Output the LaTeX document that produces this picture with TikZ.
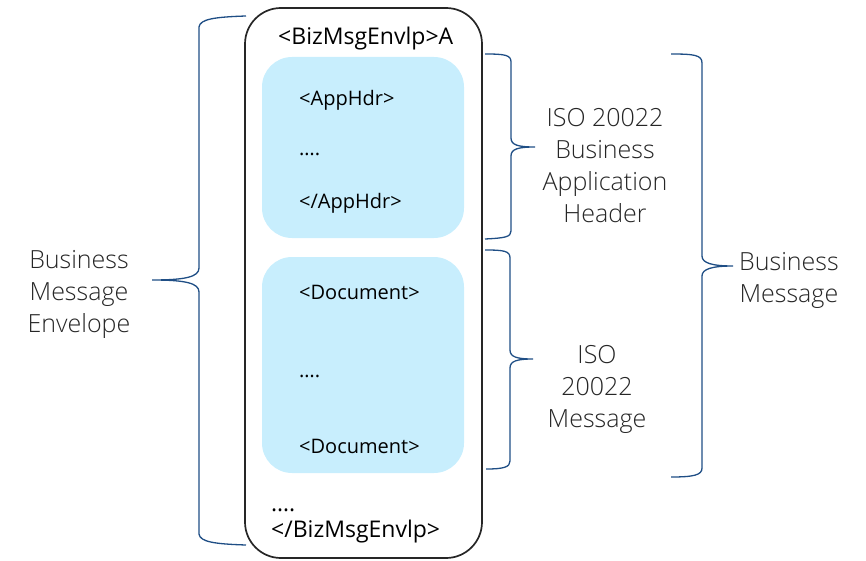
\documentclass[tikz,border=0pt]{standalone}
\usepackage{fontspec}
\setmainfont{Open Sans}
\newfontfamily\thinfont{Open Sans}[UprightFont={* Light}]
\definecolor{hdrblue}{HTML}{C8EEFD}
\definecolor{bracecol}{HTML}{1F4E85}
\definecolor{labelgray}{HTML}{262626}
\begin{document}
\begin{tikzpicture}[
                        x=1pt, y=-1pt,
                        tag/.style={anchor=base west, inner sep=0pt, font=\fontsize{20}{23}\selectfont},
                        lbl/.style={align=center, inner sep=0pt, text=labelgray, font=\thinfont\fontsize{25}{32}\selectfont},
                        brace/.style={draw=bracecol, line width=1.3pt}
                    ]
                    \useasboundingbox (0,0) rectangle (866,561);
                    % Blocks
                    \node [rectangle, draw=black!85, line width=1.7pt, rounded corners=36pt, minimum width=237, minimum height=550] (env) at (363.5,283) {};
                    \node [rectangle, fill=hdrblue, rounded corners=30pt, minimum width=202, minimum height=181] (hdr) at (363,147.5) {};
                    \node [rectangle, fill=hdrblue, rounded corners=30pt, minimum width=202, minimum height=216] (doc) at (363,365) {};

                    % Tags
                    \node [tag, font=\fontsize{23}{26}\selectfont] (envopen) at (278,45) {<BizMsgEnvlp>A};
                    \node [tag] (hdropen) at (299,106) {<AppHdr>};
                    \node [tag] (hdrdots) at (299,156) {….};
                    \node [tag] (hdrclose) at (299,208) {</AppHdr>};
                    \node [tag] (docopen) at (299,299) {<Document>};
                    \node [tag] (docdots) at (299,377) {….};
                    \node [tag] (docclose) at (299,453) {<Document>};
                    \node [tag, font=\fontsize{23}{26}\selectfont] (envdots) at (271,511) {….};
                    \node [tag, font=\fontsize{23}{26}\selectfont] (envclose) at (271,537) {</BizMsgEnvlp>};

                    % Braces
                    \coordinate (envtip) at (152,280);
                    \coordinate (hdrtip) at (535,147);
                    \coordinate (doctip) at (533,359);
                    \coordinate (msgtip) at (733,266);
                    \draw [brace] (246,16) .. controls (215,17) and (200,19) .. (199,27) -- (199,268)
                        .. controls (199,277) and (185,280) .. (envtip)
                        .. controls (185,280) and (199,283) .. (199,292) -- (199,534)
                        .. controls (200,542) and (215,544) .. (246,545);
                    \draw [brace] (485,54) .. controls (505,54) and (511,55) .. (511,62) -- (511,138)
                        .. controls (511,145) and (518,147) .. (hdrtip)
                        .. controls (518,147) and (511,149) .. (511,156) -- (511,231)
                        .. controls (511,237) and (505,238) .. (485,239);
                    \draw [brace] (485,250) .. controls (504,250) and (510,251) .. (510,258) -- (510,350)
                        .. controls (510,357) and (517,359) .. (doctip)
                        .. controls (517,359) and (510,361) .. (510,368) -- (510,461)
                        .. controls (510,467) and (504,469) .. (486,469);
                    \draw [brace] (671,54) .. controls (694,54) and (702,55) .. (702,63) -- (702,256)
                        .. controls (702,263) and (712,266) .. (msgtip)
                        .. controls (712,266) and (702,269) .. (702,276) -- (702,468)
                        .. controls (702,475) and (694,477) .. (671,477);

                    % Labels
                    \node [lbl] (envlbl) at (79,294) {Business\\Message\\Envelope};
                    \node [lbl] (hdrlbl) at (605,166) {ISO 20022\\Business\\Application\\Header};
                    \node [lbl] (doclbl) at (597,389) {ISO\\20022\\Message};
                    \node [lbl, anchor=west] (msglbl) at (739,280) {Business\\Message};
                \end{tikzpicture}
\end{document}
